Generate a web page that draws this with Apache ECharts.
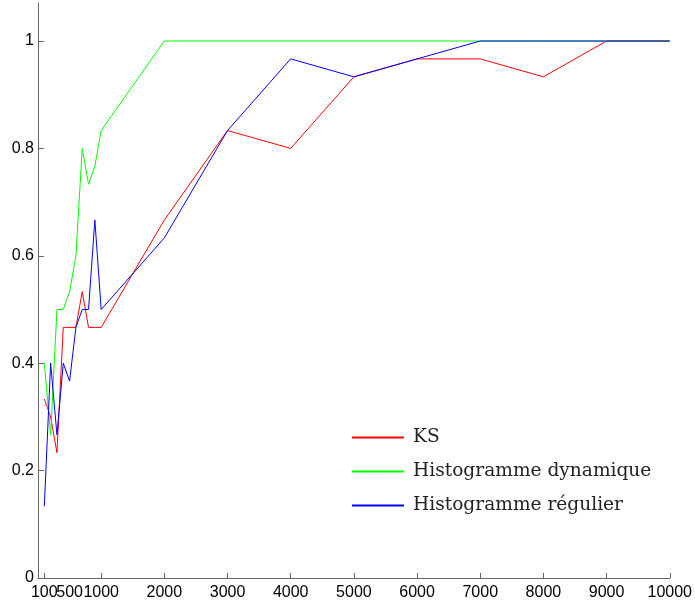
<!DOCTYPE html>
<html>
<head>
<meta charset="utf-8">
<script src="https://cdn.jsdelivr.net/npm/echarts@6/dist/echarts.min.js"></script>
<style>html,body{margin:0;padding:0;background:#fff}#c{width:695px;height:604px}</style>
</head>
<body>
<div id="c"></div>
<script>
var xValues = [100,200,300,400,500,600,700,800,900,1000,2000,3000,4000,5000,6000,7000,8000,9000,10000];
var ksValues = [0.3333,0.3,0.2333,0.4667,0.4667,0.4667,0.5333,0.4667,0.4667,0.4667,0.6667,0.8333,0.8,0.9333,0.9667,0.9667,0.9333,1,1];
var dynValues = [0.4,0.2667,0.5,0.5,0.5333,0.6,0.8,0.7333,0.7667,0.8333,1,1,1,1,1,1,1,1,1];
var regValues = [0.1333,0.4,0.2667,0.4,0.3667,0.4667,0.5,0.5,0.6667,0.5,0.6333,0.8333,0.9667,0.9333,0.9667,1,1,1,1];
var xTicks = [100,500,1000,2000,3000,4000,5000,6000,7000,8000,9000,10000];
var xTicksExtra = [500];
var yTicks = [0,0.2,0.4,0.6,0.8,1];
var seriesNames = ['KS','Histogramme dynamique','Histogramme régulier'];
var seriesColors = ['#ff0000','#00ff00','#0000ff'];

function pairs(ys){ return xValues.map(function(x,i){ return [x, ys[i]]; }); }
var allValues = [ksValues, dynValues, regValues];

var chart = echarts.init(document.getElementById('c'));
var axisColor = '#666666';
var xLabelStyle = {color: '#000', fontFamily: 'Liberation Sans', fontSize: 16, margin: 7,
  showMinLabel: true, showMaxLabel: true, hideOverlap: false, interval: 0,
  formatter: function(v){ return String(v); }};
chart.setOption({
  animation: false,
  grid: {left: 38, top: 3, right: 23.7, bottom: 26},
  xAxis: [{
    type: 'value', min: 0, max: 10000,
    axisLine: {show: true, onZero: false, lineStyle: {color: axisColor, width: 1}},
    axisTick: {show: true, inside: true, length: 5, customValues: xTicks, lineStyle: {color: axisColor}},
    axisLabel: Object.assign({customValues: xTicks}, xLabelStyle),
    splitLine: {show: false}
  }, {
    type: 'value', min: 0, max: 10000, position: 'bottom',
    axisLine: {show: false, onZero: false},
    axisTick: {show: false},
    axisLabel: Object.assign({customValues: xTicksExtra}, xLabelStyle),
    splitLine: {show: false}
  }],
  yAxis: {
    type: 'value', min: 0, max: 1.0708,
    axisLine: {show: true, onZero: false, lineStyle: {color: axisColor, width: 1}},
    axisTick: {show: true, inside: true, length: 6, customValues: yTicks, lineStyle: {color: axisColor}},
    axisLabel: {customValues: yTicks, color: '#000', fontFamily: 'Liberation Sans', fontSize: 16, margin: 4,
      showMinLabel: true, showMaxLabel: true,
      formatter: function(v){ return String(Math.round(v*10)/10); }},
    splitLine: {show: false}
  },
  legend: {
    orient: 'vertical', left: 351, top: 428, padding: 0,
    itemWidth: 52, itemHeight: 18, itemGap: 15,
    itemStyle: {opacity: 0},
    textStyle: {fontFamily: 'DejaVu Serif', fontSize: 18.6, color: '#222', padding: [0,0,0,4]},
    data: seriesNames
  },
  series: seriesNames.map(function(n,i){
    return {
      name: n, type: 'line', symbol: 'none', data: pairs(allValues[i]),
      lineStyle: {color: seriesColors[i], width: 1},
      itemStyle: {color: seriesColors[i]}
    };
  })
});
</script>
</body>
</html>
